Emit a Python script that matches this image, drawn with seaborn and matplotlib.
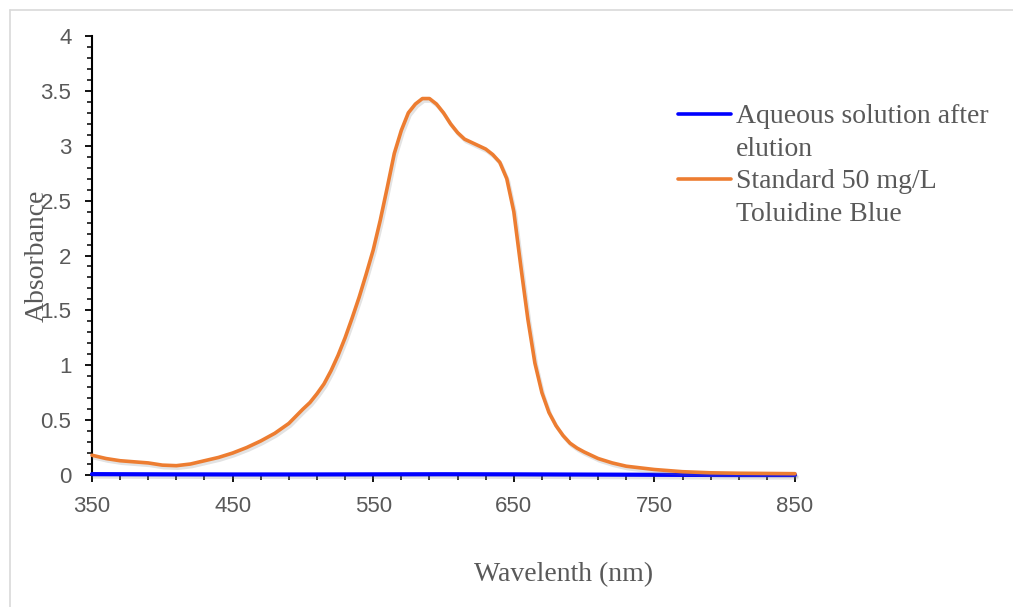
import numpy as np
import pandas as pd
import matplotlib
matplotlib.use('Agg')
import matplotlib.pyplot as plt
import matplotlib.ticker as mticker
import matplotlib.patheffects as pe
from matplotlib import font_manager as fm
from matplotlib.lines import Line2D
import seaborn as sns

# ---- data ----
wavelength = [350, 360, 370, 380, 390, 400, 410, 420, 430, 440, 450, 460, 470, 480, 490,
              500, 505, 510, 515, 520, 525, 530, 535, 540, 545, 550, 555, 560, 565, 570,
              575, 580, 585, 590, 595, 600, 605, 610, 615, 620, 625, 630, 635, 640, 645,
              650, 655, 660, 665, 670, 675, 680, 685, 690, 695, 700, 705, 710, 715, 720,
              730, 740, 750, 760, 770, 780, 790, 800, 810, 820, 830, 840, 850]
standard_tb = [0.18, 0.15, 0.13, 0.12, 0.11, 0.09, 0.085, 0.10, 0.13, 0.16, 0.20, 0.25, 0.31, 0.38, 0.47,
               0.60, 0.66, 0.74, 0.83, 0.95, 1.09, 1.25, 1.43, 1.62, 1.83, 2.05, 2.32, 2.62, 2.93, 3.14,
               3.30, 3.38, 3.43, 3.43, 3.38, 3.30, 3.20, 3.12, 3.06, 3.03, 3.00, 2.97, 2.92, 2.85, 2.70,
               2.40, 1.90, 1.42, 1.02, 0.75, 0.57, 0.45, 0.36, 0.29, 0.245, 0.21, 0.18, 0.15, 0.13, 0.11,
               0.08, 0.065, 0.05, 0.04, 0.03, 0.025, 0.02, 0.018, 0.016, 0.015, 0.014, 0.013, 0.012]
wavelength_blank = [350, 400, 450, 500, 550, 600, 650, 700, 750, 800, 850]
aqueous_after_elution = [0.008, 0.006, 0.005, 0.005, 0.006, 0.007, 0.006, 0.004, 0.002, 0.0, 0.0]

x_ticks = [350, 450, 550, 650, 750, 850]
legend_labels = ['Aqueous solution after', 'elution', 'Standard 50 mg/L', 'Toluidine Blue']
x_label = 'Wavelenth (nm)'
y_label = 'Absorbance'

# ---- style ----
sns.set_style('ticks')
names = {f.name for f in fm.fontManager.ttflist}
tick_font = 'Liberation Sans Narrow' if 'Liberation Sans Narrow' in names else 'Liberation Sans'
tick_size = 17 if tick_font == 'Liberation Sans Narrow' else 16
serif = 'Liberation Serif'
plt.rcParams['font.family'] = [tick_font, 'DejaVu Sans']

grey_text = '#595959'
blue = '#0000FF'
orange = '#ED7D31'

fig = plt.figure(figsize=(10.13, 6.07), dpi=100)
ax = fig.add_axes([92 / 1013, 1 - 475 / 607, 703 / 1013, 439 / 607])

shadow = [pe.SimpleLineShadow(offset=(1.2, -1.8), shadow_color='#808080', alpha=0.22), pe.Normal()]

df_blank = pd.DataFrame({'wl': wavelength_blank, 'abs': aqueous_after_elution})
df_std = pd.DataFrame({'wl': wavelength, 'abs': standard_tb})

sns.lineplot(data=df_blank, x='wl', y='abs', color=blue, lw=3.0, ax=ax, legend=False,
             path_effects=shadow, clip_on=False, zorder=3)
sns.lineplot(data=df_std, x='wl', y='abs', color=orange, lw=2.6, ax=ax, legend=False,
             path_effects=shadow, clip_on=False, zorder=4)

ax.set_xlim(350, 850)
ax.set_ylim(0, 4)
ax.xaxis.set_major_locator(mticker.FixedLocator(x_ticks))
ax.xaxis.set_minor_locator(mticker.MultipleLocator(20, offset=10))
ax.yaxis.set_major_locator(mticker.MultipleLocator(0.5))
ax.yaxis.set_minor_locator(mticker.MultipleLocator(0.1))
ax.yaxis.set_major_formatter(mticker.FuncFormatter(lambda v, p: f'{v:g}'))

sns.despine(ax=ax)
for s in ('left', 'bottom'):
    ax.spines[s].set_color('black')
    ax.spines[s].set_linewidth(1.5)

ax.tick_params(axis='both', which='major', length=4.8, width=1.3, color='black',
               labelcolor=grey_text, labelsize=tick_size, pad=10.0)
ax.tick_params(axis='both', which='minor', length=3.6, width=1.1, color='black')
for lab in ax.get_xticklabels() + ax.get_yticklabels():
    lab.set_fontfamily(tick_font)

ax.set_xlabel(x_label, fontfamily=serif, fontsize=20, color=grey_text)
ax.set_ylabel(y_label, fontfamily=serif, fontsize=20, color=grey_text)
ax.xaxis.set_label_coords(0.671, -0.198)
ax.yaxis.set_label_coords(-0.060, 0.5)

handles = [Line2D([], [], color=blue, lw=2.6), Line2D([], [], color='none'),
           Line2D([], [], color=orange, lw=2.6), Line2D([], [], color='none')]
fig.legend(handles, legend_labels, loc='upper left', bbox_to_anchor=(678 / 1013, 1 - 104 / 607),
           frameon=False, prop={'family': serif, 'size': 20}, labelcolor=grey_text,
           handlelength=1.9, handletextpad=0.2, labelspacing=0.25, borderpad=0, borderaxespad=0)

# outer chart-area border (light grey)
fig.add_artist(Line2D([10 / 1013, 10 / 1013], [0, 1 - 10 / 607], transform=fig.transFigure,
                      color='#d9d9d9', lw=1.2))
fig.add_artist(Line2D([10 / 1013, 1], [1 - 10 / 607, 1 - 10 / 607], transform=fig.transFigure,
                      color='#d9d9d9', lw=1.2))

fig.savefig('out.png', dpi=100)
